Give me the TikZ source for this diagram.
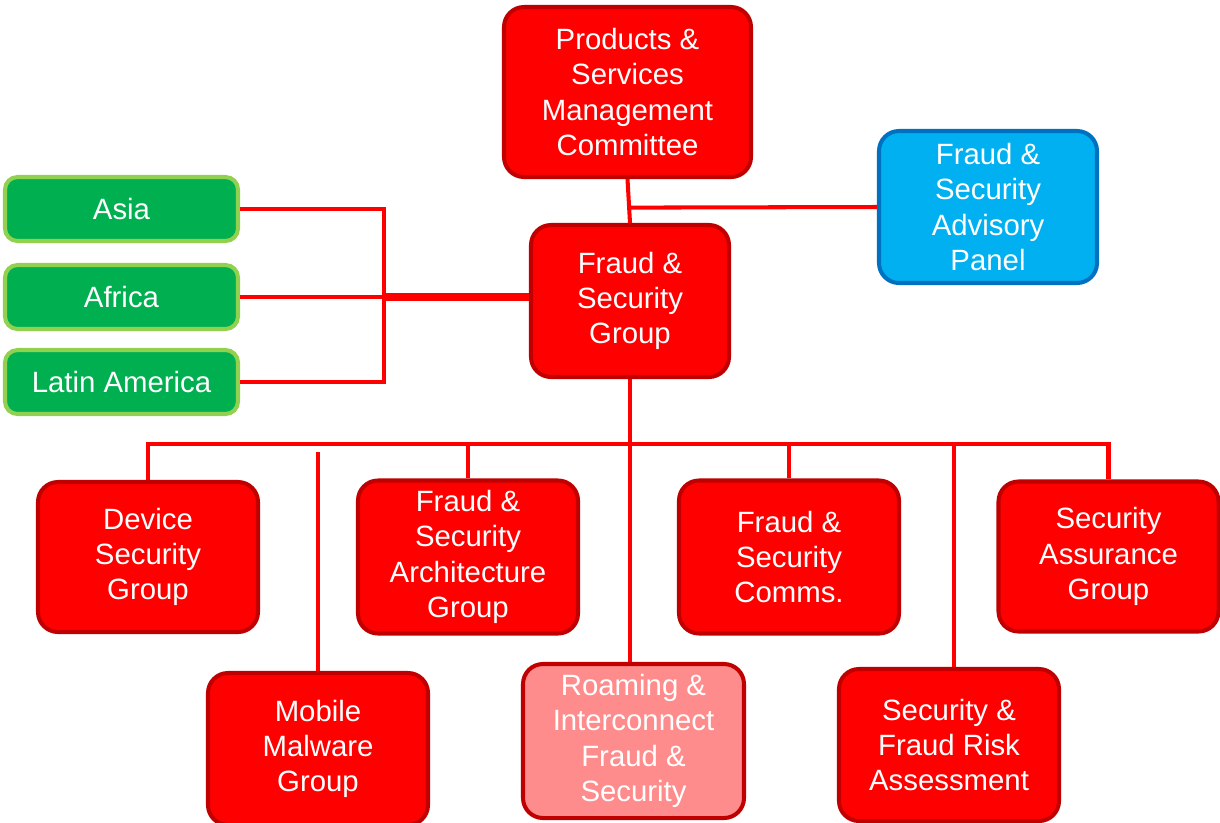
\documentclass[tikz,border=0pt]{standalone}
\usepackage{fontspec}
\setmainfont{Liberation Sans}
\usepackage{tikz}
\usetikzlibrary{calc}

\definecolor{boxred}{RGB}{255,0,0}
\definecolor{rimred}{RGB}{192,0,0}
\definecolor{boxpink}{RGB}{255,140,140}
\definecolor{boxgreen}{RGB}{0,176,80}
\definecolor{rimgreen}{RGB}{146,208,80}
\definecolor{boxblue}{RGB}{0,176,240}
\definecolor{rimblue}{RGB}{0,112,192}

\begin{document}
\begin{tikzpicture}[
	unit/.style={draw=rimred,fill=boxred,line width=2.3pt,rounded corners=0.4cm,
		text=white,align=center,inner sep=0pt,
		font=\fontsize{16.7}{20.1}\selectfont},
	unitpink/.style={unit,fill=boxpink},
	region/.style={unit,draw=rimgreen,fill=boxgreen,rounded corners=0.25cm,
		minimum width=4.66cm,minimum height=1.28cm},
	panel/.style={unit,draw=rimblue,fill=boxblue},
	team/.style={minimum width=4.40cm,minimum height=3.0cm},
	link/.style={draw=boxred,line width=2.3pt},
	biglink/.style={draw=boxred,line width=4pt}]
	\useasboundingbox (0,0) rectangle (24.4,-16.44);

	% top of the tree
	\node[unit,minimum width=4.94cm,minimum height=3.40cm] (psmc) at (12.55,-1.84)
		{Products \&\\Services\\Management\\Committee};
	\node[panel,minimum width=4.36cm,minimum height=3.04cm] (fspanel) at (19.76,-4.14)
		{Fraud \&\\Security\\Advisory\\Panel};
	\node[unit,minimum width=3.96cm,minimum height=3.04cm] (fsg) at (12.6,-6.02)
		{Fraud \&\\Security\\Group};

	% regions
	\node[region] (asia) at (2.43,-4.18) {Asia};
	\node[region] (africa) at (2.43,-5.94) {Africa};
	\node[region] (latam) at (2.43,-7.64) {Latin America};

	% groups, first row
	\node[unit,team] (dsg) at (2.96,-11.14) {Device\\Security\\Group};
	\node[unit,team,minimum height=3.06cm] (fsag) at (9.36,-11.14)
		{Fraud \&\\Security\\Architecture\\Group};
	\node[unit,team,minimum height=3.06cm] (fscomms) at (15.78,-11.14)
		{Fraud \&\\Security\\Comms.};
	\node[unit,team] (sag) at (22.17,-11.13) {Security\\Assurance\\Group};

	% groups, second row
	\node[unit,team,minimum height=3.04cm] (mmg) at (6.36,-14.98)
		{Mobile\\Malware\\Group};
	\node[unitpink,minimum width=4.42cm,minimum height=3.08cm] (rifs) at (12.67,-14.82)
		{Roaming \&\\Interconnect\\Fraud \&\\Security};
	\node[unit,team,minimum height=3.04cm] (sfra) at (18.98,-14.90)
		{Security \&\\Fraud Risk\\Assessment};

	\coordinate (rjoin) at (7.68,-5.94);
	\coordinate (bus) at (12.6,-8.88);
	\coordinate (mmgtop) at (6.36,-9.04);
	\coordinate (sfratop) at (19.08,-8.9);

	% connectors
	\draw[link] (psmc.south) -- (fsg.north);
	\draw[link] (fspanel.west) -- ($(psmc.south)!0.65!(fsg.north)$);
	\draw[link] (asia.east) -| (rjoin |- latam.east) -- (latam.east);
	\draw[link] (africa.east) -- (rjoin);
	\draw[biglink] (rjoin) -- (fsg.west |- rjoin);
	\draw[link] (fsg.south) -- (fsg.south |- rifs.north);
	\draw[link] (dsg.north) -- (dsg.north |- bus) -- (sag.north |- bus) -- (sag.north);
	\foreach \g in {fsag,fscomms}
		\draw[link] (\g.north) -- (\g.north |- bus);
	\draw[link] (sfratop |- sfra.north) -- (sfratop);
	\draw[link] (mmg.north) -- (mmgtop);
\end{tikzpicture}
\end{document}
